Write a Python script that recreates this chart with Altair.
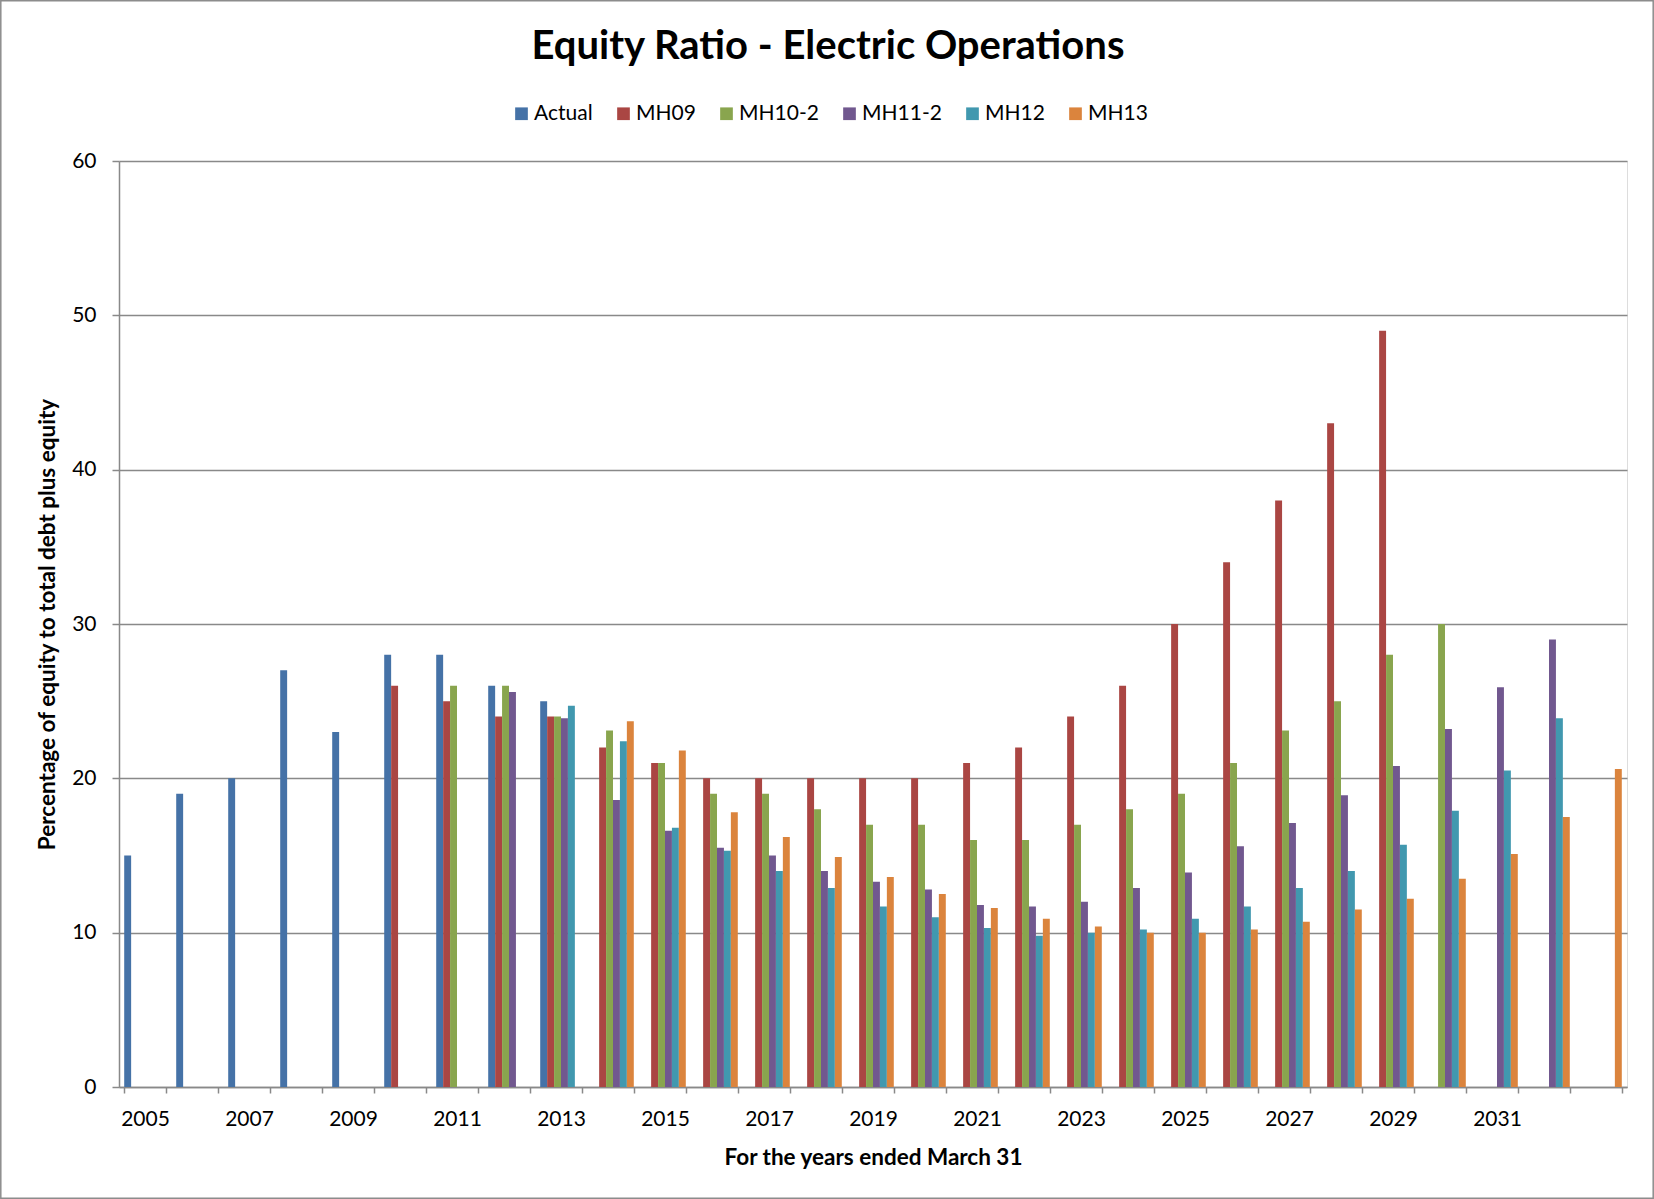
import altair as alt
import pandas as pd

years = ["2005", "2006", "2007", "2008", "2009", "2010", "2011", "2012", "2013", "2014",
         "2015", "2016", "2017", "2018", "2019", "2020", "2021", "2022", "2023", "2024",
         "2025", "2026", "2027", "2028", "2029", "2030", "2031", "2032", "2033"]

series_names = ["Actual", "MH09", "MH10-2", "MH11-2", "MH12", "MH13"]
series_colors = ["#4572A7", "#AA4643", "#89A54E", "#71588F", "#4198AF", "#DB843D"]

N = None
actual = [15, 19, 20, 27, 23, 28, 28, 26, 25, N, N, N, N, N, N, N, N, N, N, N, N, N, N, N, N, N, N, N, N]
mh09 = [N, N, N, N, N, 26, 25, 24, 24, 22, 21, 20, 20, 20, 20, 20, 21, 22, 24, 26, 30, 34, 38, 43, 49, N, N, N, N]
mh10_2 = [N, N, N, N, N, N, 26, 26, 24, 23.1, 21, 19, 19, 18, 17, 17, 16, 16, 17, 18, 19, 21, 23.1, 25, 28, 30, N, N, N]
mh11_2 = [N, N, N, N, N, N, N, 25.6, 23.9, 18.6, 16.6, 15.5, 15.0, 14.0, 13.3, 12.8, 11.8, 11.7, 12.0, 12.9, 13.9, 15.6, 17.1, 18.9, 20.8, 23.2, 25.9, 29.0, N]
mh12 = [N, N, N, N, N, N, N, N, 24.7, 22.4, 16.8, 15.3, 14.0, 12.9, 11.7, 11.0, 10.3, 9.8, 10.0, 10.2, 10.9, 11.7, 12.9, 14.0, 15.7, 17.9, 20.5, 23.9, N]
mh13 = [N, N, N, N, N, N, N, N, N, 23.7, 21.8, 17.8, 16.2, 14.9, 13.6, 12.5, 11.6, 10.9, 10.4, 10.0, 10.0, 10.2, 10.7, 11.5, 12.2, 13.5, 15.1, 17.5, 20.6]

y_ticks = [0, 10, 20, 30, 40, 50, 60]

rows = []
for name, vals in zip(series_names, [actual, mh09, mh10_2, mh11_2, mh12, mh13]):
    for yr, v in zip(years, vals):
        if v is not None:
            rows.append({"year": yr, "series": name, "value": v})
df = pd.DataFrame(rows)

FONT = "Lato"
GRAY = "#898989"

bars = alt.Chart(df).mark_bar().encode(
    x=alt.X("year:N", sort=years,
            scale=alt.Scale(domain=years, paddingInner=0.2, paddingOuter=0.1),
            axis=alt.Axis(title="For the years ended March  31", tickBand="extent",
                          labelAngle=0,
                          labelExpr="(toNumber(datum.value) % 2 == 1 && toNumber(datum.value) < 2033) ? datum.value : ''",
                          labelFont=FONT, labelFontSize=21, labelColor="#000",
                          labelPadding=15, tickSize=6, tickColor=GRAY, tickWidth=1.5,
                          domainColor=GRAY, domainWidth=1.5, grid=False,
                          titleFont=FONT, titleFontSize=22.5, titleFontWeight="bold",
                          titleColor="#000", titlePadding=17)),
    xOffset=alt.XOffset("series:N", scale=alt.Scale(domain=series_names, paddingInner=0, paddingOuter=0)),
    y=alt.Y("value:Q", scale=alt.Scale(domain=[0, 60], nice=False),
            axis=alt.Axis(title="Percentage of equity to total debt plus equity",
                          values=y_ticks, labelFont=FONT, labelFontSize=21, labelColor="#000",
                          labelPadding=16, tickSize=7, tickColor=GRAY, tickWidth=1.5,
                          domainColor=GRAY, domainWidth=1.5,
                          grid=True, gridColor=GRAY, gridWidth=1.5,
                          titleFont=FONT, titleFontSize=22.5, titleFontWeight="bold",
                          titleColor="#000", titlePadding=12)),
    color=alt.Color("series:N",
                    scale=alt.Scale(domain=series_names, range=series_colors),
                    legend=alt.Legend(title=None, orient="none", direction="horizontal",
                                      legendX=392, legendY=-58, padding=0,
                                      symbolType="square", symbolSize=161, symbolStrokeWidth=0,
                                      labelFont=FONT, labelFontSize=21, labelColor="#000",
                                      labelOffset=2, columnPadding=20)),
)

border = alt.Chart(pd.DataFrame({"a": [0]})).mark_rect(
    fill="transparent", stroke="#8c8c8c", strokeWidth=1.5
).encode(
    x=alt.value(-118.2), x2=alt.value(1534.2), y=alt.value(-160.2), y2=alt.value(1037.2)
)

chart = alt.layer(bars, border).properties(
    width=1508, height=926,
    autosize=alt.AutoSizeParams(type="none"),
    padding={"left": 119, "top": 161, "right": 27, "bottom": 112},
    title=alt.TitleParams("Equity Ratio - Electric Operations", font=FONT, fontSize=40,
                          fontWeight="bold", color="#000", anchor="middle", dx=-45,
                          baseline="alphabetic", offset=0, dy=99),
).configure_view(strokeWidth=0).configure(background="white")

chart.save("out.html", embed_options={"renderer": "svg", "actions": False})
